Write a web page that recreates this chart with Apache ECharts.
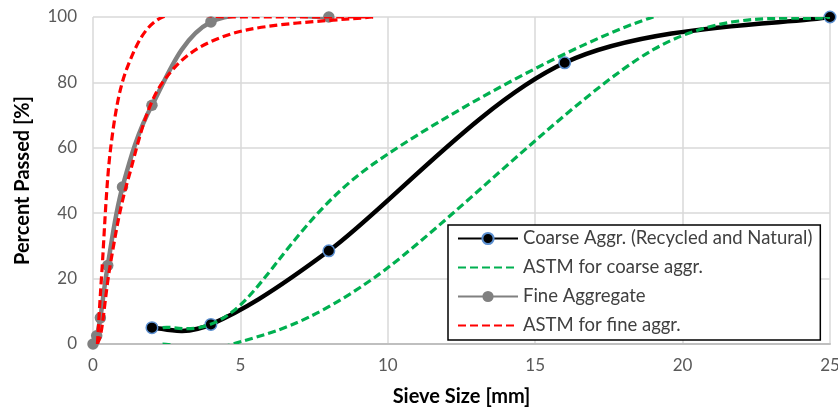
<!DOCTYPE html>
<html>
<head>
<meta charset="utf-8">
<script src="https://cdn.jsdelivr.net/npm/echarts@6/dist/echarts.min.js"></script>
<style>
html,body{margin:0;padding:0;background:#fff;}
#c{width:838px;height:409px;}
</style>
</head>
<body>
<div id="c"></div>
<script>
// ---- data ----
const xTicks = [0, 5, 10, 15, 20, 25];
const yTicks = [0, 20, 40, 60, 80, 100];

const coarseSieve = [2, 4, 8, 16, 25];
const coarsePassed = [5, 6, 28.5, 86, 100];

const astmCoarseUpperSieve = [2.36, 4.75, 9.5, 19, 25];
const astmCoarseUpperPassed = [5, 10, 55, 100, 100];
const astmCoarseLowerSieve = [2.36, 4.75, 9.5, 19, 25];
const astmCoarseLowerPassed = [0, 0, 20, 90, 100];

const fineSieve = [0, 0.125, 0.25, 0.5, 1, 2, 4, 8];
const finePassed = [0, 2.5, 8, 24, 48, 73, 98.5, 100];

const astmFineUpperSieve = [0.15, 0.3, 0.6, 1.18, 2.36, 4.75, 9.5];
const astmFineUpperPassed = [0, 22, 60, 85, 100, 100, 100];
const astmFineLowerSieve = [0.15, 0.3, 0.6, 1.18, 2.36, 4.75, 9.5];
const astmFineLowerPassed = [0, 5, 25, 50, 80, 95, 100];

const names = ['Coarse Aggr. (Recycled and Natural)', 'ASTM for coarse aggr.', 'Fine Aggregate', 'ASTM for fine aggr.'];

function pairs(xs, ys) { return xs.map((x, i) => [x, ys[i]]); }

const FONT = 'Lato, "Open Sans", sans-serif';
const DASH = [8, 4];
const BLACK = '#000000', GREEN = '#00b050', GRAY = '#808080', RED = '#ff0000', BLUE = '#5b8fd0';

// Spreadsheet-style smoothed curve (Catmull-Rom Bezier) through the data points,
// positioned with the chart's own coordinate system via api.coord.
function curveSeries(xs, ys, color, width, dashPattern, z) {
  return {
    type: 'custom', coordinateSystem: 'cartesian2d', clip: true, silent: true, z: z,
    data: pairs(xs, ys),
    encode: {x: 0, y: 1},
    renderItem: function (params, api) {
      if (params.dataIndex !== 0) return null;
      const P = xs.map((x, i) => api.coord([x, ys[i]]));
      const n = P.length;
      let d = 'M' + P[0][0] + ',' + P[0][1];
      for (let i = 0; i < n - 1; i++) {
        const p0 = P[i - 1] || P[i], p1 = P[i], p2 = P[i + 1], p3 = P[i + 2] || P[i + 1];
        const c1x = p1[0] + (p2[0] - p0[0]) / 6, c1y = p1[1] + (p2[1] - p0[1]) / 6;
        const c2x = p2[0] - (p3[0] - p1[0]) / 6, c2y = p2[1] - (p3[1] - p1[1]) / 6;
        d += ' C' + c1x + ',' + c1y + ' ' + c2x + ',' + c2y + ' ' + p2[0] + ',' + p2[1];
      }
      return {
        type: 'path',
        shape: {pathData: d},
        style: {fill: 'none', stroke: color, lineWidth: width, lineDash: dashPattern || null, lineCap: 'butt', lineJoin: 'round'}
      };
    }
  };
}

function markerSeries(xs, ys, color, border, z) {
  return {
    type: 'scatter', data: pairs(xs, ys), symbol: 'circle', symbolSize: 11.5, silent: true, z: z,
    itemStyle: {color: color, borderColor: border || color, borderWidth: border ? 1.5 : 0, opacity: 1}
  };
}

// legend-only entries (no data)
function legendSeries(name, color, width, dashPattern, withSymbol, border) {
  return {
    name: name, type: 'line', data: [],
    symbol: withSymbol ? 'circle' : 'none', symbolSize: 11,
    lineStyle: {color: color, width: width, type: dashPattern || 'solid'},
    itemStyle: {color: color, borderColor: border || color, borderWidth: border ? 1.5 : 0, opacity: withSymbol ? 1 : 0}
  };
}

const chart = echarts.init(document.getElementById('c'), null, {renderer: 'canvas'});
chart.setOption({
  animation: false,
  backgroundColor: '#ffffff',
  grid: {left: 93, right: 8, top: 17, bottom: 65, outerBoundsMode: 'none', containLabel: false},
  xAxis: {
    type: 'value', min: xTicks[0], max: xTicks[xTicks.length - 1], interval: 5,
    name: 'Sieve Size [mm]', nameLocation: 'middle', nameGap: 43,
    nameTextStyle: {fontFamily: FONT, fontSize: 20, fontWeight: 'bold', color: '#000'},
    axisLine: {show: true, lineStyle: {color: '#bfbfbf', width: 2}},
    axisTick: {show: false},
    axisLabel: {fontFamily: FONT, fontSize: 17, color: '#595959', margin: 13},
    splitLine: {show: true, lineStyle: {color: '#d9d9d9', width: 1.5}}
  },
  yAxis: {
    type: 'value', min: yTicks[0], max: yTicks[yTicks.length - 1], interval: 20,
    name: 'Percent Passed [%]', nameLocation: 'middle', nameGap: 60, nameRotate: 90,
    nameTextStyle: {fontFamily: FONT, fontSize: 20, fontWeight: 'bold', color: '#000'},
    axisLine: {show: false},
    axisTick: {show: false},
    axisLabel: {fontFamily: FONT, fontSize: 17, color: '#595959', margin: 16},
    splitLine: {show: true, lineStyle: {color: '#d9d9d9', width: 1.5}}
  },
  legend: {
    orient: 'vertical', left: 448, top: 225,
    data: names,
    backgroundColor: '#ffffff', borderColor: '#000', borderWidth: 1.5,
    padding: [4, 8, 5, 9],
    itemWidth: 60, itemHeight: 14, itemGap: 10,
    textStyle: {fontFamily: FONT, fontSize: 18.5, color: '#404040'},
    z: 10
  },
  series: [
    legendSeries(names[0], BLACK, 4.5, null, true, BLUE),
    legendSeries(names[1], GREEN, 3, DASH, false),
    legendSeries(names[2], GRAY, 4.5, null, true),
    legendSeries(names[3], RED, 3, DASH, false),

    curveSeries(coarseSieve, coarsePassed, BLACK, 4.5, null, 2),
    markerSeries(coarseSieve, coarsePassed, BLACK, BLUE, 3),
    curveSeries(astmCoarseUpperSieve, astmCoarseUpperPassed, GREEN, 3.2, DASH, 4),
    curveSeries(astmCoarseLowerSieve, astmCoarseLowerPassed, GREEN, 3.2, DASH, 4),
    curveSeries(fineSieve, finePassed, GRAY, 4.5, null, 5),
    markerSeries(fineSieve, finePassed, GRAY, null, 6),
    curveSeries(astmFineUpperSieve, astmFineUpperPassed, RED, 3.2, DASH, 7),
    curveSeries(astmFineLowerSieve, astmFineLowerPassed, RED, 3.2, DASH, 7)
  ]
});
</script>
</body>
</html>
